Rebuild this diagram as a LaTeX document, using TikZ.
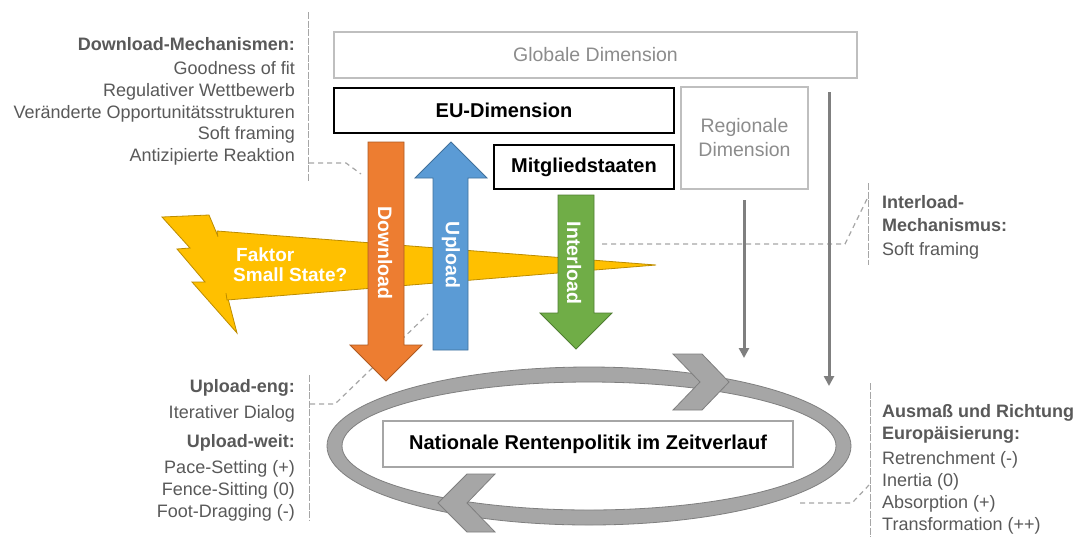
\documentclass[tikz,border=0pt]{standalone}
\usepackage{fontspec}
\setmainfont{Liberation Sans}
\usetikzlibrary{arrows.meta}
\definecolor{labgrey}{HTML}{595959}
\definecolor{softgrey}{HTML}{8C8C8C}
\definecolor{boxgrey}{HTML}{BFBFBF}
\definecolor{dashgrey}{HTML}{A6A6A6}
\definecolor{ringfill}{HTML}{A6A6A6}
\definecolor{ringline}{HTML}{7F7F7F}
\definecolor{arrgrey}{HTML}{7F7F7F}
\definecolor{dlfill}{HTML}{ED7D31}
\definecolor{dlline}{HTML}{AE5A21}
\definecolor{ulfill}{HTML}{5B9BD5}
\definecolor{ulline}{HTML}{41719C}
\definecolor{ilfill}{HTML}{70AD47}
\definecolor{illine}{HTML}{507E32}
\definecolor{boltfill}{HTML}{FFC000}
\definecolor{boltline}{HTML}{BC8C00}
\begin{document}
\begin{tikzpicture}[x=1pt,y=-1pt,
  lbl/.style={font=\fontsize{18}{22}\selectfont, text=labgrey, inner sep=0pt},
  blbl/.style={font=\fontsize{18}{22}\selectfont\bfseries, text=labgrey, inner sep=0pt},
  softbox/.style={draw=boxgrey, line width=1.3pt, fill=white, text=softgrey, font=\fontsize{19.5}{24}\selectfont, align=center, inner sep=0pt},
  hardbox/.style={draw=black, line width=1.3pt, fill=white, text=black, font=\fontsize{20}{24}\selectfont\bfseries, inner sep=0pt},
  arrtext/.style={rotate=-90, text=white, font=\fontsize{19.5}{22}\selectfont\bfseries, inner sep=0pt},
  guide/.style={draw=dashgrey, line width=1pt, dash pattern=on 7pt off 1.5pt},
  link/.style={draw=dashgrey, line width=1.2pt, dash pattern=on 5pt off 4pt},
  greyarrow/.style={draw=arrgrey, line width=3pt, -{Triangle[width=10pt,length=10pt]}},
  blockarrow/.style={line width=0.8pt, line join=miter}
]
\useasboundingbox (0,0) rectangle (1078,539);
\fill[white] (0,0) rectangle (1078,539);

% ---------- coordinates for the guide lines and links ----------
\coordinate (g1a) at (308,12);  \coordinate (g1b) at (308,181);
\coordinate (g2a) at (309,375); \coordinate (g2b) at (309,521);
\coordinate (g3a) at (868,183); \coordinate (g3b) at (868,265);
\coordinate (g4a) at (870,383); \coordinate (g4b) at (870,537);

\coordinate (d1) at (309,163); \coordinate (d2) at (346,163); \coordinate (d3) at (361,174);
\coordinate (u1) at (310,404); \coordinate (u2) at (335,404); \coordinate (u3) at (428,314);
\coordinate (i1) at (602,244); \coordinate (i2) at (845,244); \coordinate (i3) at (867,199);
\coordinate (e1) at (800,503); \coordinate (e2) at (852,503); \coordinate (e3) at (869,485);

\path[guide] (g1a) -- (g1b);
\path[guide] (g2a) -- (g2b);
\path[guide] (g3a) -- (g3b);
\path[guide] (g4a) -- (g4b);

\path[link] (d1) -- (d2) -- (d3);
\path[link] (u1) -- (u2) -- (u3);
\path[link] (i1) -- (i2) -- (i3);
\path[link] (e1) -- (e2) -- (e3);

% ---------- boxes ----------
\node[softbox, minimum width=523pt, minimum height=46pt] (glob) at (595.5,55) {Globale Dimension};
\node[hardbox, minimum width=340pt, minimum height=45pt] (eu) at (504,110.5) {EU-Dimension};
\node[softbox, minimum width=127pt, minimum height=102pt] (reg) at (744.5,138) {Regionale\\Dimension};
\node[hardbox, minimum width=180pt, minimum height=44pt] (ms) at (584,167) {Mitgliedstaaten};

% ---------- grey arrows ----------
\coordinate (ga1) at (829,92);  \coordinate (gb1) at (829,386);
\coordinate (ga2) at (744,200); \coordinate (gb2) at (744,358);
\path[greyarrow] (ga1) -- (gb1);
\path[greyarrow] (ga2) -- (gb2);

% ---------- lightning bolt with wedge ----------
\filldraw[fill=boltfill, draw=boltline, line width=0.8pt, line join=miter]
  (162,217) -- (209,215) -- (222,246) -- (219,247) -- (232,285) -- (225,287)
  -- (237,333) -- (192,282) -- (205,282) -- (177,249) -- (190,248) -- cycle;
\filldraw[fill=boltfill, draw=boltline, line width=0.8pt, line join=miter]
  (217,231) -- (656,265) -- (227,300) -- cycle;
\fill[boltfill] (215,236) -- (229,240) -- (233,293) -- (222,293) -- cycle;
\node[font=\fontsize{19}{22}\selectfont\bfseries, text=white, anchor=base west, inner sep=0pt] (fk1) at (236,261.5) {Faktor};
\node[font=\fontsize{19}{22}\selectfont\bfseries, text=white, anchor=base west, inner sep=0pt] (fk2) at (233,281) {Small State?};

% ---------- block arrows ----------
\filldraw[blockarrow, fill=dlfill, draw=dlline]
  (368,142) -- (404,142) -- (404,345) -- (422,345) -- (386,381) -- (350,345) -- (368,345) -- cycle;
\filldraw[blockarrow, fill=ulfill, draw=ulline]
  (433,350) -- (468,350) -- (468,178) -- (487,178) -- (451,142) -- (415,178) -- (433,178) -- cycle;
\filldraw[blockarrow, fill=ilfill, draw=illine]
  (558,195) -- (594,195) -- (594,313) -- (612,313) -- (576,349) -- (540,313) -- (558,313) -- cycle;
\node[arrtext] (dl) at (385,253) {Download};
\node[arrtext] (ul) at (451,255) {Upload};
\node[arrtext] (il) at (574,263) {Interload};

% ---------- ring ----------
\filldraw[fill=ringfill, draw=ringline, line width=0.8pt, even odd rule]
  (589,446) ellipse [x radius=262, y radius=79]
  (589,446) ellipse [x radius=247, y radius=64];
\filldraw[fill=ringfill, draw=ringline, line width=0.8pt, line join=miter]
  (673,354) -- (702,354) -- (729,382) -- (702,410) -- (673,410) -- (700,382) -- cycle;
\filldraw[fill=ringfill, draw=ringline, line width=0.8pt, line join=miter]
  (495,474) -- (467,474) -- (438,503) -- (467,532) -- (495,532) -- (467,503) -- cycle;
\node[draw=dashgrey, line width=1.3pt, fill=white, minimum width=410pt, minimum height=46pt,
  font=\fontsize{20}{24}\selectfont\bfseries, inner sep=0pt] (nat) at (588,444) {Nationale Rentenpolitik im Zeitverlauf};

% ---------- left labels ----------
\node[blbl, anchor=base east] (t1) at (295,50.5) {Download-Mechanismen:};
\node[lbl, anchor=base east] (t2) at (295,74.5) {Goodness of fit};
\node[lbl, anchor=base east] (t3) at (295,96.5) {Regulativer Wettbewerb};
\node[lbl, anchor=base east] (t4) at (295,118.5) {Veränderte Opportunitätsstrukturen};
\node[lbl, anchor=base east] (t5) at (295,139.5) {Soft framing};
\node[lbl, anchor=base east] (t6) at (295,161.5) {Antizipierte Reaktion};

\node[blbl, anchor=base east] (b1) at (295,392.5) {Upload-eng:};
\node[lbl, anchor=base east] (b2) at (295,418.5) {Iterativer Dialog};
\node[blbl, anchor=base east] (b3) at (295,447.5) {Upload-weit:};
\node[lbl, anchor=base east] (b4) at (295,473.5) {Pace-Setting (+)};
\node[lbl, anchor=base east] (b5) at (295,495.5) {Fence-Sitting (0)};
\node[lbl, anchor=base east] (b6) at (295,517.5) {Foot-Dragging (-)};

% ---------- right labels ----------
\node[blbl, anchor=base west] (r1) at (882,208.5) {Interload-};
\node[blbl, anchor=base west] (r2) at (882,231.5) {Mechanismus:};
\node[lbl, anchor=base west] (r3) at (882,255.5) {Soft framing};

\node[blbl, anchor=base west] (s1) at (882,417.5) {Ausmaß und Richtung};
\node[blbl, anchor=base west] (s2) at (882,439.5) {Europäisierung:};
\node[lbl, anchor=base west] (s3) at (882,464.5) {Retrenchment (-)};
\node[lbl, anchor=base west] (s4) at (882,486.5) {Inertia (0)};
\node[lbl, anchor=base west] (s5) at (882,508.5) {Absorption (+)};
\node[lbl, anchor=base west] (s6) at (882,530.5) {Transformation (++)};
\end{tikzpicture}
\end{document}
